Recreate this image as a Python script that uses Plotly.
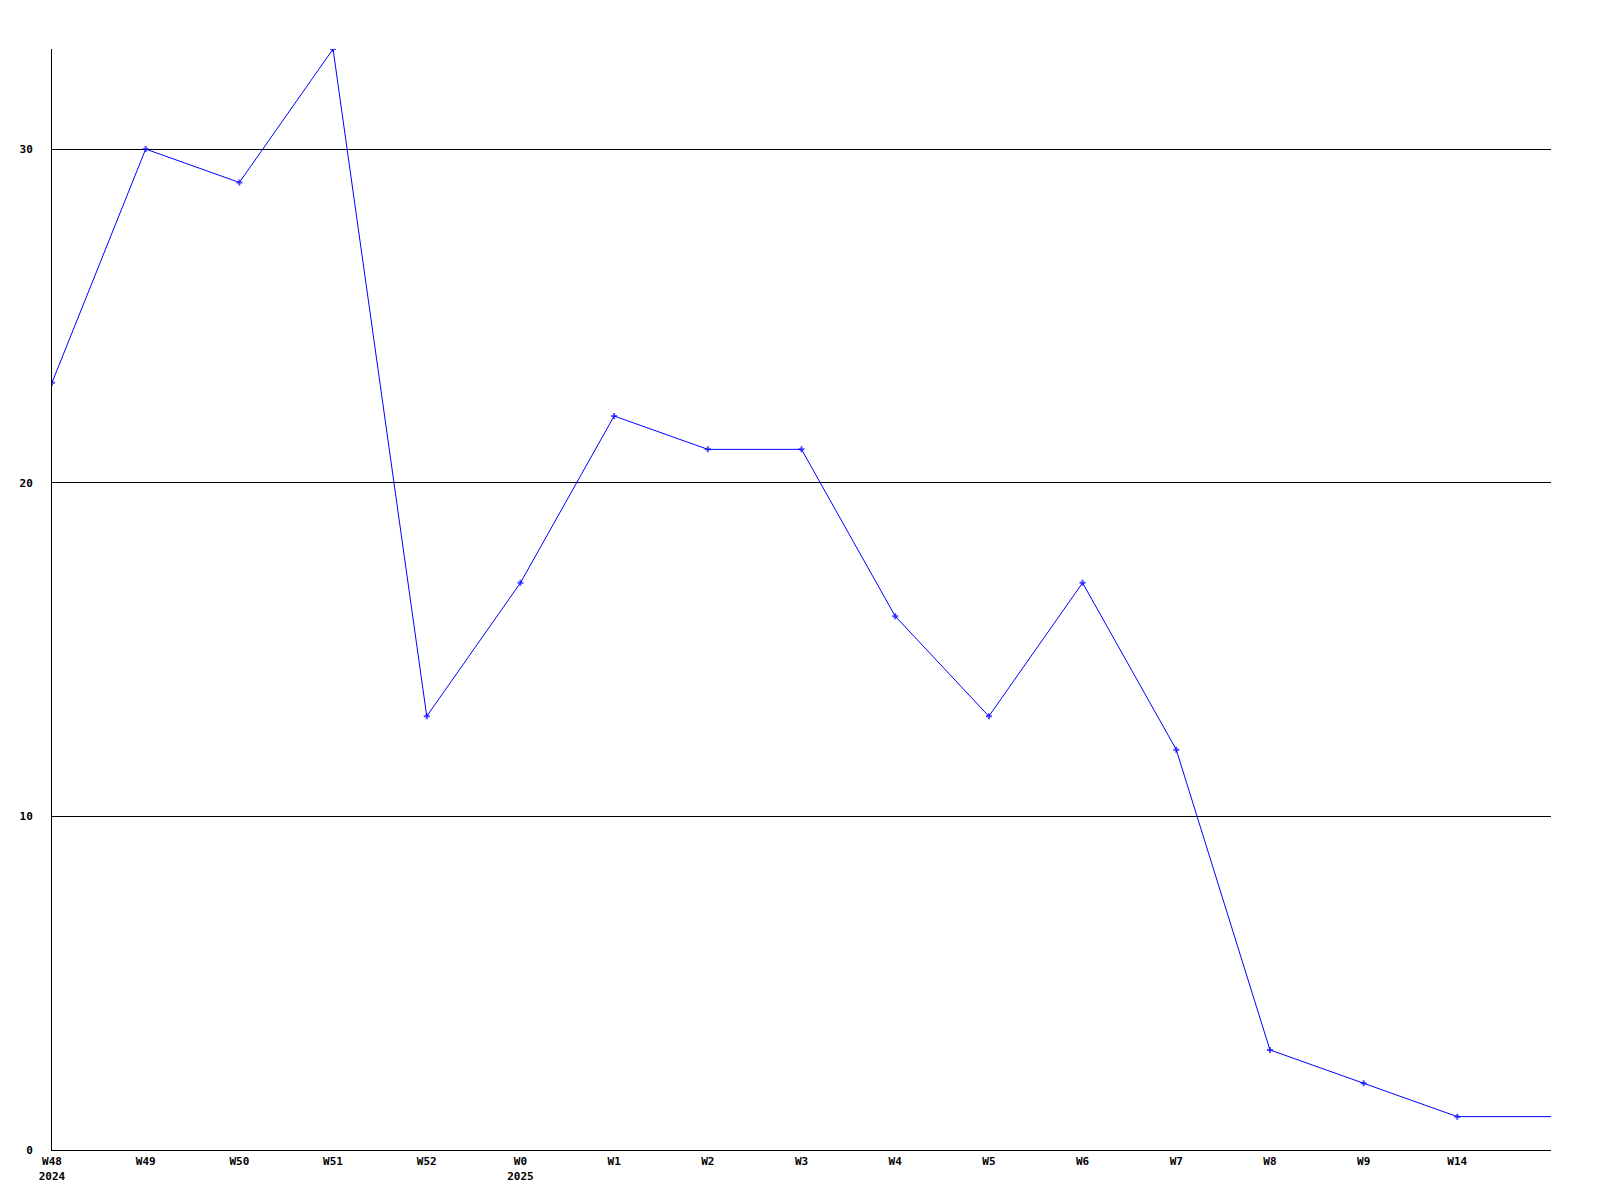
import plotly.graph_objects as go

tick_labels = ["W48<br>2024", "W49", "W50", "W51", "W52", "W0<br>2025", "W1", "W2", "W3",
               "W4", "W5", "W6", "W7", "W8", "W9", "W14"]
values = [23, 30, 29, 33, 13, 17, 22, 21, 21, 16, 13, 17, 12, 3, 2, 1]
# current (unlabelled) period continues at the last value to the right edge
current_value = 1

x_idx = list(range(len(values) + 1))
y_all = values + [current_value]
marker_sizes = [5] * len(values) + [0]

fig = go.Figure()
fig.add_trace(go.Scatter(
    x=x_idx, y=y_all, mode="lines+markers",
    line=dict(color="#0000ff", width=1),
    marker=dict(symbol="cross", size=marker_sizes, color="#0000ff", line=dict(width=0)),
    showlegend=False, hoverinfo="x+y",
))

font = dict(family="DejaVu Sans Mono", size=11, color="black", weight="bold")

fig.update_layout(
    width=1600, height=1200,
    margin=dict(l=42, r=57, t=41, b=58),
    paper_bgcolor="white", plot_bgcolor="white",
    xaxis=dict(
        range=[0, len(values)], tickmode="array",
        tickvals=list(range(len(tick_labels))), ticktext=tick_labels,
        showgrid=False, zeroline=False, showline=True, linecolor="black", linewidth=1,
        ticks="", tickfont=font, ticklabelstandoff=1,
    ),
    yaxis=dict(
        range=[0, 33], tickmode="array", tickvals=[0, 10, 20, 30],
        ticktext=["0", "10", "20", "30"],
        showgrid=True, gridcolor="black", gridwidth=1,
        zeroline=False, showline=True, linecolor="black", linewidth=1,
        ticks="", tickfont=font, ticklabelstandoff=16,
    ),
)

fig.write_html("out.html")
